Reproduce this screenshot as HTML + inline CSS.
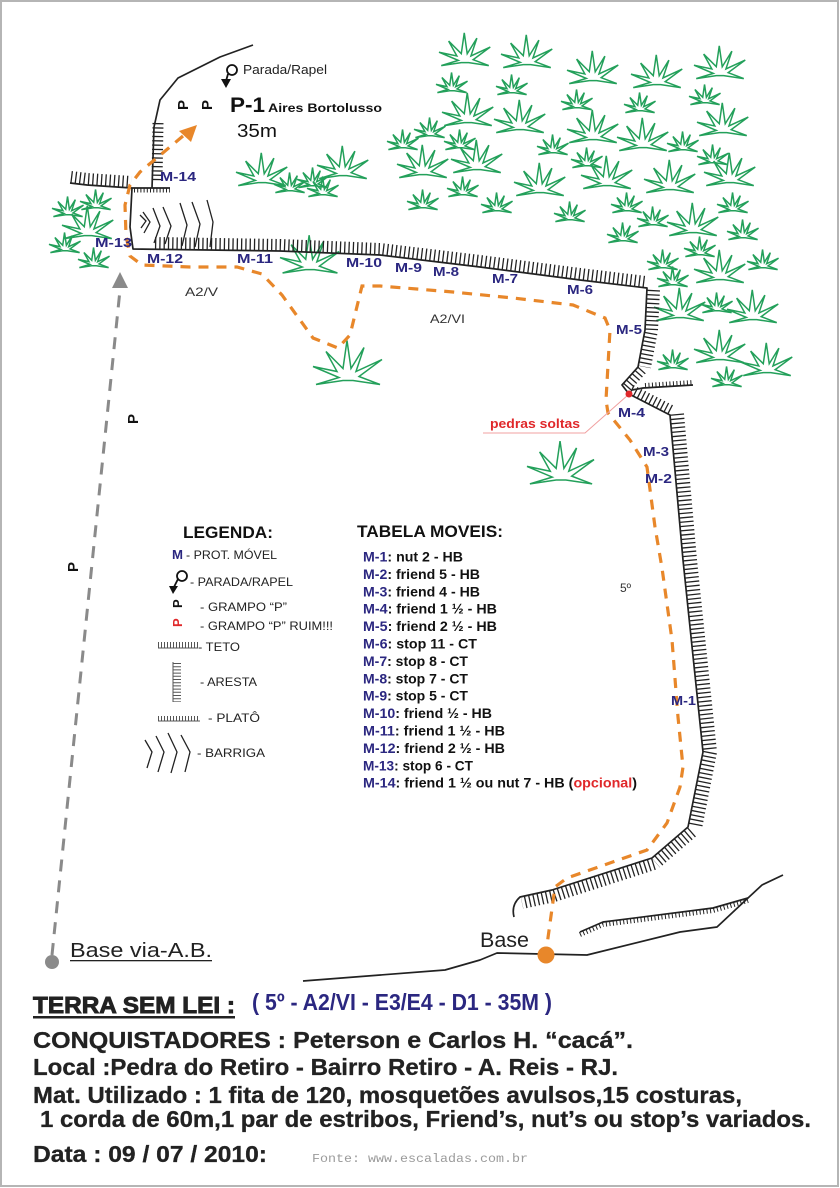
<!DOCTYPE html>
<html><head><meta charset="utf-8"><style>
html,body{margin:0;padding:0;background:#fff;}
svg{display:block;}
text{font-family:"Liberation Sans",Arial,sans-serif;}
.m{font-weight:bold;font-size:13px;fill:#2b2780;}
.r{font-weight:bold;font-size:14px;fill:#111;}
.n{fill:#2b2780;}
.lg{font-size:12px;fill:#222;}
.b{font-weight:700;font-size:23px;fill:#222;font-family:"Liberation Sans",Arial,sans-serif;}
</style></head><body>
<svg width="840" height="1188" viewBox="0 0 840 1188" xmlns="http://www.w3.org/2000/svg">
<defs>
<symbol id="t" viewBox="0 0 70 46" overflow="visible"><polygon points="3,44 26,37 0,26 24,31 13,11 30,28 34,0 38,28 51,7 43,31 69,19 46,36 67,44 40,40 30,40" fill="none" stroke="#23a05a" stroke-width="1.5" vector-effect="non-scaling-stroke" stroke-linejoin="miter"/></symbol>
</defs>
<rect x="0" y="0" width="840" height="1188" fill="#fff"/>
<rect x="1" y="1" width="837" height="1185" fill="none" stroke="#b5b5b5" stroke-width="2"/>

<!-- tufts big -->
<g>
<use href="#t" x="439" y="32" width="52" height="36"/>
<use href="#t" x="501" y="34" width="52" height="36"/>
<use href="#t" x="567" y="50" width="52" height="36"/>
<use href="#t" x="631" y="54" width="52" height="36"/>
<use href="#t" x="694" y="45" width="52" height="36"/>
<use href="#t" x="442" y="92" width="52" height="36"/>
<use href="#t" x="494" y="99" width="52" height="36"/>
<use href="#t" x="567" y="109" width="52" height="36"/>
<use href="#t" x="697" y="102" width="52" height="36"/>
<use href="#t" x="617" y="117" width="52" height="36"/>
<use href="#t" x="397" y="144" width="52" height="36"/>
<use href="#t" x="451" y="139" width="52" height="36"/>
<use href="#t" x="581" y="155" width="52" height="36"/>
<use href="#t" x="704" y="152" width="52" height="36"/>
<use href="#t" x="514" y="162" width="52" height="36"/>
<use href="#t" x="644" y="159" width="52" height="36"/>
<use href="#t" x="667" y="202" width="52" height="36"/>
<use href="#t" x="694" y="249" width="52" height="36"/>
<use href="#t" x="654" y="287" width="52" height="36"/>
<use href="#t" x="727" y="289" width="52" height="36"/>
<use href="#t" x="694" y="329" width="52" height="36"/>
<use href="#t" x="741" y="342" width="52" height="36"/>
<use href="#t" x="236" y="152" width="52" height="36"/>
<use href="#t" x="317" y="145" width="52" height="36"/>
<use href="#t" x="62" y="205" width="52" height="36"/>
<use href="#t" x="280" y="233" width="60" height="44"/>
<use href="#t" x="313" y="340" width="70" height="47"/>
<use href="#t" x="527" y="440" width="68" height="47"/>
</g>
<!-- tufts small -->
<g>
<use href="#t" x="436" y="72" width="32" height="22"/>
<use href="#t" x="496" y="74" width="32" height="22"/>
<use href="#t" x="561" y="89" width="32" height="22"/>
<use href="#t" x="624" y="92" width="32" height="22"/>
<use href="#t" x="689" y="84" width="32" height="22"/>
<use href="#t" x="414" y="117" width="32" height="22"/>
<use href="#t" x="387" y="129" width="32" height="22"/>
<use href="#t" x="444" y="129" width="32" height="22"/>
<use href="#t" x="537" y="134" width="32" height="22"/>
<use href="#t" x="667" y="131" width="32" height="22"/>
<use href="#t" x="697" y="144" width="32" height="22"/>
<use href="#t" x="571" y="147" width="32" height="22"/>
<use href="#t" x="447" y="176" width="32" height="22"/>
<use href="#t" x="407" y="189" width="32" height="22"/>
<use href="#t" x="481" y="192" width="32" height="22"/>
<use href="#t" x="611" y="192" width="32" height="22"/>
<use href="#t" x="717" y="192" width="32" height="22"/>
<use href="#t" x="554" y="201" width="32" height="22"/>
<use href="#t" x="637" y="206" width="32" height="22"/>
<use href="#t" x="727" y="219" width="32" height="22"/>
<use href="#t" x="607" y="222" width="32" height="22"/>
<use href="#t" x="684" y="236" width="32" height="22"/>
<use href="#t" x="647" y="249" width="32" height="22"/>
<use href="#t" x="747" y="249" width="32" height="22"/>
<use href="#t" x="657" y="266" width="32" height="22"/>
<use href="#t" x="701" y="292" width="32" height="22"/>
<use href="#t" x="657" y="349" width="32" height="22"/>
<use href="#t" x="711" y="366" width="32" height="22"/>
<use href="#t" x="274" y="172" width="32" height="22"/>
<use href="#t" x="297" y="167" width="32" height="22"/>
<use href="#t" x="307" y="176" width="32" height="22"/>
<use href="#t" x="52" y="196" width="32" height="22"/>
<use href="#t" x="80" y="189" width="32" height="22"/>
<use href="#t" x="49" y="232" width="32" height="22"/>
<use href="#t" x="78" y="247" width="32" height="22"/>
</g>

<!-- rock outlines -->
<g fill="none" stroke="#222" stroke-width="1.7" stroke-linejoin="round">
<path d="M253,45 L220,57 L178,78 L160,100 L154,127 L152,188"/>
<path d="M70,183 L87,185 L132,188 L170,188"/>
<path d="M132,188 L130,227 L133,249 L280,251 L380,255 L480,267 L580,280 L647,288 L645,330 L638,367 L622,385 L629,394 L670,415 L683,560 L703,752 L688,827 L652,858 L552,890 L520,897 Q511,905 514,917"/>
<path d="M632,390 L643,388 L693,385"/>
<path d="M580,932 L603,922 L713,908 L748,898"/>
<path d="M303,981 L445,970 L480,960 L497,953 L587,955 L680,932 L717,927 L748,898 L762,885 L783,875"/>
</g>
<!-- hatch ticks -->
<g fill="none" stroke="#222" stroke-dasharray="1.3 3">
<path d="M71,177 L87,179 L131,182" stroke-width="12"/>
<path d="M158,123 L157,181" stroke-width="11"/>
<path d="M134,190.5 L170,190.5" stroke-width="4" stroke-dasharray="1 2.2"/>
<path d="M155,243 L280,245 L380,249 L480,261 L580,274 L646,282" stroke-width="12"/>
<path d="M653.5,290 L651.5,330 L644.5,367" stroke-width="13"/>
<path d="M642,370 L626,388" stroke-width="10"/>
<path d="M645,385.5 L693,382.5" stroke-width="5" stroke-dasharray="1 2.5"/>
<path d="M631.3,389.5 L672.3,410.5" stroke-width="10"/>
<path d="M677,414 L690,560 L710,752 L695,828" stroke-width="14"/>
<path d="M692,832 L656,863" stroke-width="12"/>
<path d="M654,864 L554,896 L522,903" stroke-width="12"/>
<path d="M580,934.5 L603,924.5 L713,910.5 L748,900.5" stroke-width="5" stroke-dasharray="1 2.5"/>
</g>
<!-- barriga chevrons in diagram -->
<g fill="none" stroke="#222" stroke-width="1.3">
<path d="M140,215 L146,221 L141,228"/>
<path d="M143,212 L150,222 L144,233"/>
<path d="M153,208 L160,226 L154,243"/>
<path d="M163,207 L171,226 L165,244"/>
<path d="M180,203 L187,225 L182,246"/>
<path d="M192,202 L200,224 L195,247"/>
<path d="M207,200 L213,222 L210,247"/>
</g>

<!-- orange route -->
<path d="M183,136 L140,172 L130,185 L125,205 L126,235 L130,256 L142,265 L190,267 L237,267 L262,274 L282,295 L313,338 L338,348 L350,335 L362,286 L380,286 L453,292 L513,298 L573,305 L605,318 L610,330 L606,400 L608,413 L630,440 L647,467 L655,527 L662,568 L672,640 L678,717 L683,767 L680,787 L667,823 L647,850 L567,878 L555,887 L547,945" fill="none" stroke="#e8872a" stroke-width="3.2" stroke-dasharray="10 8"/>
<polygon points="197,125 179,131 191,142" fill="#e8872a"/>
<circle cx="546" cy="955" r="8.5" fill="#e8872a"/>

<!-- gray approach line -->
<path d="M52,955 L120,290" fill="none" stroke="#8a8a8a" stroke-width="3" stroke-dasharray="12 9"/>
<polygon points="120,272 112,288 128,288" fill="#8a8a8a"/>
<circle cx="52" cy="962" r="7" fill="#8a8a8a"/>

<!-- rappel symbol top -->
<circle cx="232" cy="70" r="5" fill="none" stroke="#111" stroke-width="1.8"/>
<path d="M228,74 L226,81" stroke="#111" stroke-width="1.8"/>
<polygon points="221,79 231,79 226,88" fill="#111"/>
<text x="243" y="74" font-size="13" fill="#222" textLength="84" lengthAdjust="spacingAndGlyphs">Parada/Rapel</text>

<!-- bolts -->
<text transform="translate(188,110) rotate(-90)" font-size="15" font-weight="bold" fill="#111">P</text>
<text transform="translate(212,110) rotate(-90)" font-size="15" font-weight="bold" fill="#111">P</text>
<text transform="translate(138,424) rotate(-90)" font-size="15" font-weight="bold" fill="#111">P</text>
<text transform="translate(78,572) rotate(-90)" font-size="15" font-weight="bold" fill="#111">P</text>

<text x="230" y="112" font-size="21" font-weight="bold" fill="#111" textLength="35" lengthAdjust="spacingAndGlyphs">P-1</text>
<text x="268" y="112" font-size="12" font-weight="bold" fill="#111" textLength="114" lengthAdjust="spacingAndGlyphs">Aires Bortolusso</text>
<text x="237" y="137" font-size="18" fill="#111" textLength="40" lengthAdjust="spacingAndGlyphs">35m</text>

<!-- M labels -->
<text class="m" x="160" y="181" textLength="36" lengthAdjust="spacingAndGlyphs">M-14</text>
<text class="m" x="95" y="247" textLength="37" lengthAdjust="spacingAndGlyphs">M-13</text>
<text class="m" x="147" y="263" textLength="36" lengthAdjust="spacingAndGlyphs">M-12</text>
<text class="m" x="237" y="263" textLength="36" lengthAdjust="spacingAndGlyphs">M-11</text>
<text class="m" x="346" y="267" textLength="36" lengthAdjust="spacingAndGlyphs">M-10</text>
<text class="m" x="395" y="272" textLength="27" lengthAdjust="spacingAndGlyphs">M-9</text>
<text class="m" x="433" y="276" textLength="26" lengthAdjust="spacingAndGlyphs">M-8</text>
<text class="m" x="492" y="283" textLength="26" lengthAdjust="spacingAndGlyphs">M-7</text>
<text class="m" x="567" y="294" textLength="26" lengthAdjust="spacingAndGlyphs">M-6</text>
<text class="m" x="616" y="334" textLength="26" lengthAdjust="spacingAndGlyphs">M-5</text>
<text class="m" x="618" y="417" textLength="27" lengthAdjust="spacingAndGlyphs">M-4</text>
<text class="m" x="643" y="456" textLength="26" lengthAdjust="spacingAndGlyphs">M-3</text>
<text class="m" x="645" y="483" textLength="27" lengthAdjust="spacingAndGlyphs">M-2</text>
<text class="m" x="671" y="705" textLength="25" lengthAdjust="spacingAndGlyphs">M-1</text>

<text x="185" y="296" font-size="12" fill="#333" textLength="33" lengthAdjust="spacingAndGlyphs">A2/V</text>
<text x="430" y="323" font-size="12" fill="#333" textLength="35" lengthAdjust="spacingAndGlyphs">A2/VI</text>
<text x="620" y="592" font-size="12" fill="#333">5º</text>

<!-- pedras soltas -->
<path d="M483,433 L585,433 L628,395" fill="none" stroke="#f0a0a0" stroke-width="1"/>
<circle cx="629" cy="394" r="3.5" fill="#e0282a"/>
<text x="490" y="428" font-size="13" font-weight="bold" fill="#e0282a" textLength="90" lengthAdjust="spacingAndGlyphs">pedras soltas</text>

<!-- Base labels -->
<text x="480" y="947" font-size="21" fill="#222" textLength="49" lengthAdjust="spacingAndGlyphs">Base</text>
<text x="70" y="957" font-size="20" fill="#222" textLength="142" lengthAdjust="spacingAndGlyphs">Base via-A.B.</text>
<rect x="70" y="960" width="142" height="1.3" fill="#222"/>

<!-- LEGEND -->
<text x="183" y="538" font-size="17" font-weight="bold" fill="#111" textLength="90" lengthAdjust="spacingAndGlyphs">LEGENDA:</text>
<text x="172" y="559" font-size="13" font-weight="bold" class="n" textLength="11" lengthAdjust="spacingAndGlyphs">M</text>
<text class="lg" x="186" y="559" textLength="91" lengthAdjust="spacingAndGlyphs">- PROT. MÓVEL</text>
<circle cx="182" cy="576" r="5" fill="none" stroke="#111" stroke-width="1.8"/>
<path d="M178,579 L174,587" stroke="#111" stroke-width="1.8"/>
<polygon points="169,586 178,586 173,594" fill="#111"/>
<text class="lg" x="190" y="586" textLength="103" lengthAdjust="spacingAndGlyphs">- PARADA/RAPEL</text>
<text transform="translate(182,608) rotate(-90)" font-size="13" font-weight="bold" fill="#111">P</text>
<text class="lg" x="200" y="611" textLength="87" lengthAdjust="spacingAndGlyphs">- GRAMPO “P”</text>
<text transform="translate(182,627) rotate(-90)" font-size="13" font-weight="bold" fill="#e0282a">P</text>
<text class="lg" x="200" y="630" textLength="133" lengthAdjust="spacingAndGlyphs">- GRAMPO “P” RUIM!!!</text>
<path d="M158,648 L198,648" stroke="#555" stroke-width="1"/>
<path d="M158,645 L198,645" stroke="#555" stroke-width="6" stroke-dasharray="1 2"/>
<text class="lg" x="198" y="651" textLength="42" lengthAdjust="spacingAndGlyphs">- TETO</text>
<path d="M173,662 L173,702" stroke="#555" stroke-width="1"/>
<path d="M177,663 L177,702" stroke="#555" stroke-width="8" stroke-dasharray="1 2.2"/>
<text class="lg" x="200" y="686" textLength="57" lengthAdjust="spacingAndGlyphs">- ARESTA</text>
<path d="M158,721 L200,721" stroke="#555" stroke-width="1"/>
<path d="M158,718.5 L200,718.5" stroke="#555" stroke-width="5" stroke-dasharray="1 2"/>
<text class="lg" x="208" y="722" textLength="52" lengthAdjust="spacingAndGlyphs">- PLATÔ</text>
<g fill="none" stroke="#222" stroke-width="1.3">
<path d="M145,740 L152,752 L147,768"/>
<path d="M156,736 L164,752 L158,772"/>
<path d="M168,733 L177,752 L171,773"/>
<path d="M181,735 L190,752 L185,772"/>
</g>
<text class="lg" x="197" y="757" textLength="68" lengthAdjust="spacingAndGlyphs">- BARRIGA</text>

<!-- TABLE -->
<text x="357" y="537" font-size="17" font-weight="bold" fill="#111" textLength="146" lengthAdjust="spacingAndGlyphs">TABELA MOVEIS:</text>
<text class="r" x="363" y="561.5" textLength="100" lengthAdjust="spacingAndGlyphs"><tspan class="n">M-1</tspan>: nut 2 - HB</text>
<text class="r" x="363" y="578.9" textLength="117" lengthAdjust="spacingAndGlyphs"><tspan class="n">M-2</tspan>: friend 5 - HB</text>
<text class="r" x="363" y="596.3" textLength="117" lengthAdjust="spacingAndGlyphs"><tspan class="n">M-3</tspan>: friend 4 - HB</text>
<text class="r" x="363" y="613.7" textLength="134" lengthAdjust="spacingAndGlyphs"><tspan class="n">M-4</tspan>: friend 1 ½ - HB</text>
<text class="r" x="363" y="631.1" textLength="134" lengthAdjust="spacingAndGlyphs"><tspan class="n">M-5</tspan>: friend 2 ½ - HB</text>
<text class="r" x="363" y="648.5" textLength="114" lengthAdjust="spacingAndGlyphs"><tspan class="n">M-6</tspan>: stop 11 - CT</text>
<text class="r" x="363" y="665.9" textLength="105" lengthAdjust="spacingAndGlyphs"><tspan class="n">M-7</tspan>: stop 8 - CT</text>
<text class="r" x="363" y="683.3" textLength="105" lengthAdjust="spacingAndGlyphs"><tspan class="n">M-8</tspan>: stop 7 - CT</text>
<text class="r" x="363" y="700.7" textLength="105" lengthAdjust="spacingAndGlyphs"><tspan class="n">M-9</tspan>: stop 5 - CT</text>
<text class="r" x="363" y="718.1" textLength="129" lengthAdjust="spacingAndGlyphs"><tspan class="n">M-10</tspan>: friend ½ - HB</text>
<text class="r" x="363" y="735.5" textLength="142" lengthAdjust="spacingAndGlyphs"><tspan class="n">M-11</tspan>: friend 1 ½ - HB</text>
<text class="r" x="363" y="752.9" textLength="142" lengthAdjust="spacingAndGlyphs"><tspan class="n">M-12</tspan>: friend 2 ½ - HB</text>
<text class="r" x="363" y="770.3" textLength="110" lengthAdjust="spacingAndGlyphs"><tspan class="n">M-13</tspan>: stop 6 - CT</text>
<text class="r" x="363" y="787.7" textLength="274" lengthAdjust="spacingAndGlyphs"><tspan class="n">M-14</tspan>: friend 1 ½ ou nut 7 - HB (<tspan fill="#e0282a">opcional</tspan>)</text>

<!-- BOTTOM INFO -->
<text class="b" x="33" y="1013" font-size="30" font-weight="bold" stroke="#222" stroke-width="0.9" textLength="202" lengthAdjust="spacingAndGlyphs">TERRA SEM LEI :</text>
<rect x="33" y="1016" width="202" height="2.5" fill="#222"/>
<text class="b" x="252" y="1010" font-size="18" font-weight="bold" style="fill:#2b2780;font-weight:bold" textLength="300" lengthAdjust="spacingAndGlyphs">( 5º - A2/VI - E3/E4 - D1 - 35M )</text>
<text class="b" x="33" y="1048" font-weight="bold" style="font-weight:bold" stroke="#222" stroke-width="0.3" textLength="600" lengthAdjust="spacingAndGlyphs">CONQUISTADORES :  Peterson e Carlos H. “cacá”.</text>
<text class="b" x="33" y="1075" font-weight="bold" style="font-weight:bold" stroke="#222" stroke-width="0.3" textLength="585" lengthAdjust="spacingAndGlyphs">Local :Pedra do Retiro - Bairro Retiro - A. Reis - RJ.</text>
<text class="b" x="33" y="1103" font-weight="bold" style="font-weight:bold" stroke="#222" stroke-width="0.3" textLength="709" lengthAdjust="spacingAndGlyphs">Mat. Utilizado : 1 fita de 120, mosquetões avulsos,15 costuras,</text>
<text class="b" x="40" y="1127" font-weight="bold" style="font-weight:bold" stroke="#222" stroke-width="0.3" textLength="771" lengthAdjust="spacingAndGlyphs">1 corda de 60m,1 par de estribos, Friend’s, nut’s ou stop’s variados.</text>
<text class="b" x="33" y="1162" font-weight="bold" style="font-weight:bold" stroke="#222" stroke-width="0.3" textLength="234" lengthAdjust="spacingAndGlyphs">Data :  09 / 07 / 2010:</text>
<text x="312" y="1162" font-size="12" fill="#9a9a9a" style="font-family:'Liberation Mono',monospace" textLength="216" lengthAdjust="spacingAndGlyphs">Fonte: www.escaladas.com.br</text>
</svg>
</body></html>
